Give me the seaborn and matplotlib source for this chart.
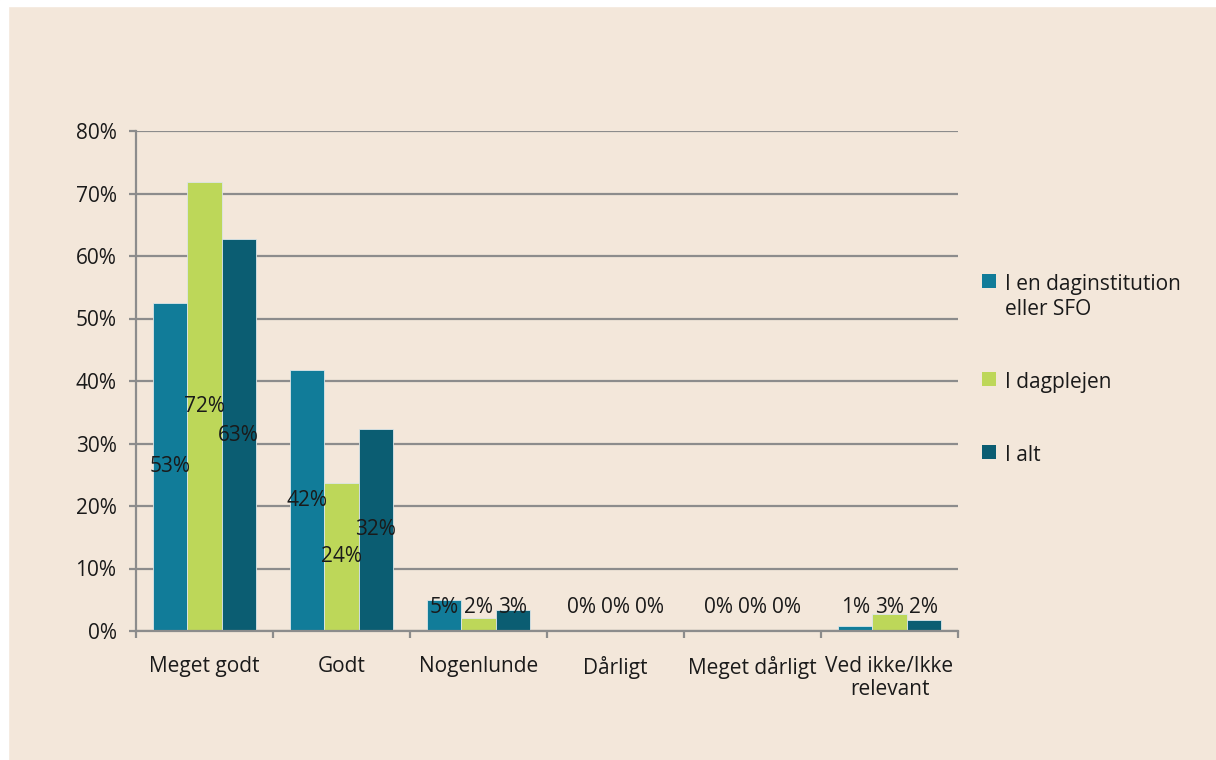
import pandas as pd
import seaborn as sns
import matplotlib.pyplot as plt
from matplotlib.patches import Patch, Rectangle

# data (percent)
kategorier = ['Meget godt', 'Godt', 'Nogenlunde', 'Dårligt', 'Meget dårligt', 'Ved ikke/Ikke\nrelevant']
daginstitution = [52.5, 41.8, 5.0, 0.0, 0.0, 0.8]
dagplejen = [71.8, 23.7, 2.1, 0.0, 0.0, 2.7]
i_alt = [62.7, 32.4, 3.4, 0.0, 0.0, 1.8]
etiketter = {
    'I en daginstitution\neller SFO': ['53%', '42%', '5%', '0%', '0%', '1%'],
    'I dagplejen': ['72%', '24%', '2%', '0%', '0%', '3%'],
    'I alt': ['63%', '32%', '3%', '0%', '0%', '2%'],
}
serier = list(etiketter.keys())
farver = ['#117C99', '#BDD759', '#0B5D72']

bg = '#F3E7DA'
grid_col = '#8C8C8C'
fs = 15

rows = []
for navn, vals in zip(serier, [daginstitution, dagplejen, i_alt]):
    for k, v in zip(kategorier, vals):
        rows.append({'kategori': k, 'andel': v, 'gruppe': navn})
df = pd.DataFrame(rows)

sns.set_style('white')
plt.rcParams['font.family'] = ['Open Sans', 'DejaVu Sans']

fig = plt.figure(figsize=(12.16, 7.6), dpi=100)
fig.patch.set_facecolor(bg)
# thin white strip along top and left edges
fig.patches.append(Rectangle((0, 0), 8 / 1216, 1, transform=fig.transFigure, color='white', zorder=-1))
fig.patches.append(Rectangle((0, 1 - 6 / 760), 1, 6 / 760, transform=fig.transFigure, color='white', zorder=-1))

ax = fig.add_axes([136 / 1216, 1 - 631 / 760, 822 / 1216, 500 / 760])
ax.set_facecolor(bg)

sns.barplot(data=df, x='kategori', y='andel', hue='gruppe', palette=farver, width=0.75,
            saturation=1, edgecolor='#DCE6E8', linewidth=0.6, legend=False, ax=ax)

for cont, navn in zip(ax.containers, serier):
    for bar, txt in zip(cont, etiketter[navn]):
        h = bar.get_height()
        ax.text(bar.get_x() + bar.get_width() / 2, max(h / 2, 3.7), txt,
                ha='center', va='center', fontsize=fs, color='#1a1a1a', zorder=5)

ax.set_ylim(0, 80)
ax.set_xlim(-0.5, len(kategorier) - 0.5)
ax.set_yticks(range(0, 81, 10))
ax.set_yticklabels([f'{t}%' for t in range(0, 81, 10)], fontsize=fs, color='#1a1a1a')
ax.yaxis.grid(True, color=grid_col, linewidth=1.6)
ax.set_axisbelow(True)
ax.tick_params(axis='y', length=5, width=1.6, color=grid_col, pad=9, direction='out', left=True)

ax.set_xticks(range(len(kategorier)))
ax.set_xticklabels(kategorier, fontsize=fs, color='#1a1a1a', linespacing=1.15)
ax.tick_params(axis='x', which='major', length=0, pad=18, bottom=False)
ax.set_xticks([i - 0.5 for i in range(len(kategorier) + 1)], minor=True)
ax.tick_params(axis='x', which='minor', length=5, width=1.6, color=grid_col, direction='out', bottom=True)

for s in ['top', 'right']:
    ax.spines[s].set_visible(False)
for s in ['left', 'bottom']:
    ax.spines[s].set_color(grid_col)
    ax.spines[s].set_linewidth(1.6)
ax.set_xlabel('')
ax.set_ylabel('')

handles = [Patch(facecolor=c, edgecolor='none') for c in farver]
leg = fig.legend(handles, serier, loc='upper left', bbox_to_anchor=(974 / 1216, 1 - 266 / 760),
                 frameon=False, fontsize=fs, handlelength=0.65, handleheight=0.65,
                 handletextpad=0.45, labelspacing=2.5, labelcolor='#1a1a1a', borderaxespad=0)
# put the square next to the first text line, as in the original
for col in leg._legend_handle_box.get_children():
    for item in col.get_children():
        item.align = 'top'

fig.savefig('out.png', dpi=100, facecolor=fig.get_facecolor())
